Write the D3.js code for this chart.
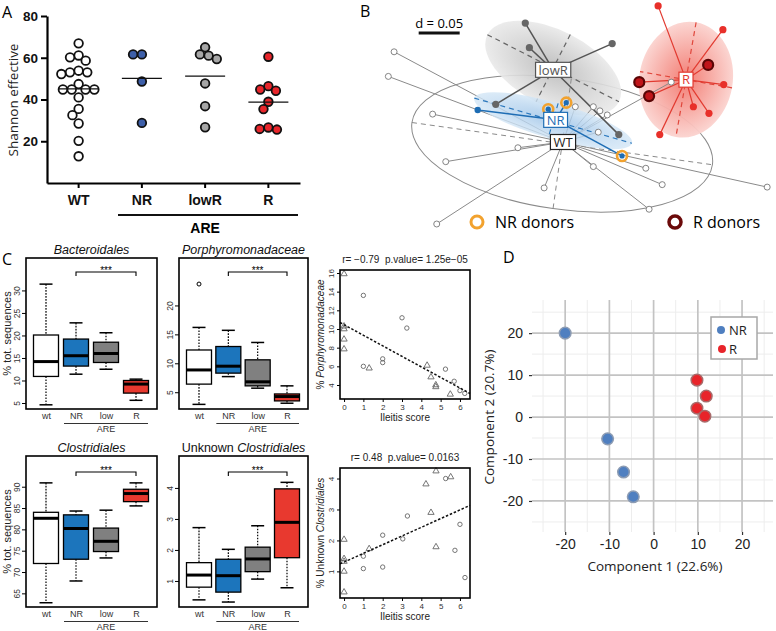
<!DOCTYPE html>
<html><head><meta charset="utf-8">
<script src="https://cdn.jsdelivr.net/npm/d3@7/dist/d3.min.js"></script>
<style>html,body{margin:0;padding:0;background:#fff}svg{display:block}</style>
</head><body>
<svg id="chart" width="776" height="631" viewBox="0 0 776 631"></svg>
<script>
// ================= DATA =================
// Panel A: Shannon effective
const aGroups = ["WT", "NR", "lowR", "R"];
const aWT   = [66.9, 61.1, 60.2, 58.6, 53.8, 53.0, 52.2, 53.0, 47.4, 44.8, 44.8, 44.8, 44.8, 41.0, 35.5, 32.5, 28.5, 20.2, 12.8];
const aNR   = [61.6, 61.6, 48.6, 28.8];
const aLowR = [65.0, 61.6, 61.0, 59.4, 47.7, 36.8, 26.7];
const aRv   = [60.5, 46.4, 44.8, 44.2, 38.9, 35.4, 26.6, 25.9, 25.6];
const aTicks = [20, 40, 60, 80];

// Panel B: ordination (units: distance, bar d = 0.05)
const bCenterWT = [0, 0], bCenterLowR = [-0.012, 0.088], bCenterR = [0.150, 0.076], bCenterNR = [-0.009, 0.027];
// ellipses: [cx, cy, semi-axis a, semi-axis b, angle deg]
const bEllWT   = [-0.001, -0.002, 0.185, 0.080, 8];
const bEllLowR = [-0.012, 0.090, 0.090, 0.046, 27];
const bEllR    = [0.150, 0.076, 0.071, 0.057, 100];
const bEllNR   = [-0.012, 0.026, 0.100, 0.022, 16];
const bWT = [[-0.206,0.110],[-0.213,0.080],[-0.159,0.034],[-0.143,-0.024],[-0.055,-0.007],[-0.023,-0.056],[-0.154,-0.100],
             [0.037,-0.030],[0.101,-0.032],[0.121,-0.052],[0.105,-0.082],[0.249,-0.055],[0.015,0.043],[0.037,0.043],
             [0.045,0.038],[0.054,0.033],[0.043,0.012],[0.132,0.073]];
const bLowR = [[-0.046,0.145],[-0.041,0.115],[-0.028,0.090],[0.060,0.120],[-0.082,0.046],[0.068,0.009]];
const bR = [[0.116,0.166],[0.195,0.137],[0.196,0.070],[0.159,0.043],[0.178,0.035],[0.118,0.009]];
const bRdonors = [[0.177,0.094],[0.093,0.073],[0.105,0.056]];
const bNR = [[-0.104,0.039]];
const bNRdonors = [[-0.018,0.040],[0.004,0.048],[0.072,-0.017]];

// Panel C: boxplot stats [low whisker, Q1, median, Q3, high whisker]
const boxGroups = ["wt", "NR", "low", "R"];
const bacteroidales = [[4.6,10.9,14.2,20.1,31.4],[11.4,13.2,15.5,19.2,22.8],[12.5,14.0,16.0,18.5,20.6],[5.6,7.2,9.2,10.0,10.3]];
const bacteroidalesTicks = [5,10,15,20,25,30];
const porphyro = [[2.9,6.4,8.85,12.3,16.2],[7.7,8.3,9.5,12.9,15.7],[5.7,6.1,6.8,10.6,13.6],[3.1,3.5,4.25,4.7,6.1]];
const porphyroOutliers = [[0, 23.7]];
const porphyroTicks = [5,10,15,20];
const clostridiales = [[62.8,72.0,82.6,84.0,90.9],[67.9,73.0,80.2,83.4,84.3],[73.3,74.8,77.2,80.3,84.5],[85.5,86.5,88.4,89.4,90.9]];
const clostridialesTicks = [65,70,75,80,85,90];
const unkClos = [[0.39,0.8,1.19,1.59,2.72],[0.32,0.64,1.17,1.70,2.02],[1.06,1.30,1.71,2.09,2.78],[0.78,1.75,2.89,3.97,4.18]];
const unkClosTicks = [1,2,3,4];
// Scatter: [ileitis score, %]
const porCircles = [[1.0,13.6],[1.0,6.0],[2.0,6.8],[2.0,6.4],[3.0,11.2],[3.25,10.1],[5.25,5.7],[5.7,4.4],[6.0,3.4],[6.25,3.1]];
const porTriangles = [[0,15.9],[0,10.3],[0,10.0],[0,8.9],[0,7.85],[1.3,5.8],[4.3,6.1],[4.5,4.85],[4.75,4.0],[4.75,3.8],[5.5,3.0]];
const porYTicks = [4,6,8,10,12,14,16];
const ucCircles = [[1.0,1.49],[1.0,1.09],[2.0,2.17],[2.0,1.14],[3.04,2.05],[3.28,2.79],[5.26,4.0],[6.0,2.52],[5.74,1.68],[6.26,0.8]];
const ucTriangles = [[0,2.03],[0,1.41],[0,1.32],[0,1.0],[0,0.33],[1.3,1.73],[4.24,3.82],[4.76,4.24],[5.52,4.05],[4.5,2.9],[4.76,1.79]];
const ucYTicks = [1,2,3,4];
const scoreTicks = [0,1,2,3,4,5,6];

// Panel D: PCA
const dNR = [[-20,20],[-10.4,-5.2],[-6.8,-13.1],[-4.6,-19.0]];
const dR  = [[9.8,8.8],[11.9,5.0],[9.8,2.1],[11.6,0.2]];
const dTicks = [-20,-10,0,10,20];
const dMinor = [-25,-15,-5,5,15,25];

// ================= DRAW =================
const SANS = "'Liberation Sans', Arial, sans-serif";
const HUM = "'Open Sans', 'Noto Sans', sans-serif";
const FMT = d3.format("~g");
const svg = d3.select("#chart");
const defs = svg.append("defs");

function label(t, x, y) {
  svg.append("text").attr("x", x).attr("y", y).attr("font-size", 16).attr("font-family", HUM).text(t);
}
label("A", 2, 18); label("B", 360, 17); label("C", 2, 265); label("D", 503, 263);

// ---------- Panel A ----------
function swarm(values, yS, d) {
  const placed = [], off = new Array(values.length);
  const order = values.map((v, i) => i).sort((a, b) => values[b] - values[a]);
  for (const i of order) {
    const py = yS(values[i]);
    const near = placed.filter(p => Math.abs(p.y - py) < d);
    const cands = [0];
    near.forEach(p => { const dx = Math.sqrt(d * d - (p.y - py) ** 2); cands.push(p.x - dx, p.x + dx); });
    cands.sort((a, b) => Math.abs(a) - Math.abs(b));
    const x = cands.find(c => near.every(p => Math.hypot(p.x - c, p.y - py) >= d - 1e-6));
    off[i] = x; placed.push({ x, y: py });
  }
  return off;
}
{
  const g = svg.append("g");
  const x = d3.scaleBand().domain(aGroups).range([47, 300]);
  const y = d3.scaleLinear().domain([0, 80]).range([183, 16]);
  const ya = g.append("g").attr("transform", "translate(47,0)")
    .call(d3.axisLeft(y).tickValues(aTicks).tickSize(6).tickSizeOuter(0).tickPadding(3));
  ya.select(".domain").attr("stroke-width", 2.2);
  ya.selectAll(".tick line").attr("stroke-width", 2);
  ya.selectAll("text").attr("font-size", 13.5).attr("font-weight", "bold").attr("font-family", SANS).attr("fill", "#111");
  const xa = g.append("g").attr("transform", "translate(0,183)")
    .call(d3.axisBottom(x).tickSize(5).tickSizeOuter(0).tickPadding(7));
  xa.select(".domain").attr("stroke-width", 2.2);
  xa.selectAll(".tick line").attr("stroke-width", 2);
  xa.selectAll("text").attr("font-size", 14).attr("font-weight", "bold").attr("font-family", SANS).attr("fill", "#111");
  g.append("line").attr("x1", 118).attr("x2", 298).attr("y1", 215).attr("y2", 215).attr("stroke", "#111").attr("stroke-width", 2);
  g.append("text").attr("x", x("lowR") + x.bandwidth() / 2).attr("y", 233).attr("text-anchor", "middle")
    .attr("font-size", 14).attr("font-weight", "bold").attr("font-family", SANS).text("ARE");
  g.append("text").attr("transform", "translate(18,100) rotate(-90)").attr("text-anchor", "middle")
    .attr("font-size", 13.5).attr("font-family", HUM).attr("fill", "#222").text("Shannon effective");
  const series = [aWT, aNR, aLowR, aRv];
  const fills = ["#ffffff", "#3d5fa9", "#a6a6a6", "#e8262b"];
  series.forEach((vals, gi) => {
    const cx = x(aGroups[gi]) + x.bandwidth() / 2;
    const offs = swarm(vals, y, 8.8);
    vals.forEach((v, i) => g.append("circle").attr("cx", cx + offs[i]).attr("cy", y(v)).attr("r", 4.3)
      .attr("fill", fills[gi]).attr("stroke", "#111").attr("stroke-width", 1.8));
    const m = d3.mean(vals);
    g.append("line").attr("x1", cx - 20).attr("x2", cx + 20).attr("y1", y(m)).attr("y2", y(m)).attr("stroke", "#111").attr("stroke-width", 1.3);
  });
}

// ---------- Panel B ----------
function radial(id, c0, c1) {
  const gr = defs.append("radialGradient").attr("id", id);
  gr.append("stop").attr("offset", "0%").attr("stop-color", c0);
  gr.append("stop").attr("offset", "100%").attr("stop-color", c1);
}
radial("gGray", "#b9b9b9", "#e9e9e9");
radial("gRed", "#f2776d", "#fbd3cf");
radial("gBlue", "#98c0e6", "#d3e6f6");
{
  const g = svg.append("g");
  const x = d3.scaleLinear().domain([-0.25, 0.25]).range([358, 768]);
  const y = d3.scaleLinear().domain([-0.1, 0.1]).range([224, 60]);
  const k = x(1) - x(0);
  function ellipse(e, fill, stroke, op) {
    g.append("ellipse").attr("transform", `translate(${x(e[0])},${y(e[1])}) rotate(${e[4]})`)
      .attr("rx", e[2] * k).attr("ry", e[3] * k).attr("fill", fill).attr("fill-opacity", op)
      .attr("stroke", stroke).attr("stroke-width", 1);
  }
  function axes(e, col, w) {
    const cx = x(e[0]), cy = y(e[1]), t = e[4] * Math.PI / 180;
    const ux = Math.cos(t), uy = Math.sin(t), a = e[2] * k, b = e[3] * k;
    [[ux * a, uy * a], [-uy * b, ux * b]].forEach(([dx, dy]) =>
      g.append("line").attr("x1", cx - dx).attr("y1", cy - dy).attr("x2", cx + dx).attr("y2", cy + dy)
        .attr("stroke", col).attr("stroke-width", w).attr("stroke-dasharray", "5,4"));
  }
  function spokes(c, pts, col, w) {
    pts.forEach(p => g.append("line").attr("x1", x(c[0])).attr("y1", y(c[1])).attr("x2", x(p[0])).attr("y2", y(p[1]))
      .attr("stroke", col).attr("stroke-width", w));
  }
  ellipse(bEllWT, "none", "#8a8a8a", 1);
  ellipse(bEllLowR, "url(#gGray)", "none", 0.9);
  ellipse(bEllR, "url(#gRed)", "none", 0.95);
  axes(bEllWT, "#8a8a8a", 1);
  axes(bEllLowR, "#666", 1.2);
  axes(bEllR, "#e0473c", 1.2);
  spokes(bCenterWT, bWT, "#8a8a8a", 1);
  ellipse(bEllNR, "url(#gBlue)", "none", 0.8);
  axes(bEllNR, "#2b78bd", 1.2);
  spokes(bCenterLowR, bLowR, "#555", 1.5);
  spokes(bCenterR, bR.concat(bRdonors), "#e23a30", 1.2);
  spokes(bCenterNR, bNR.concat(bNRdonors), "#1e6db4", 1.5);
  bWT.forEach(p => g.append("circle").attr("cx", x(p[0])).attr("cy", y(p[1])).attr("r", 3).attr("fill", "#fff").attr("stroke", "#777").attr("stroke-width", 0.9));
  bLowR.forEach(p => g.append("circle").attr("cx", x(p[0])).attr("cy", y(p[1])).attr("r", 3.6).attr("fill", "#666"));
  bR.forEach(p => g.append("circle").attr("cx", x(p[0])).attr("cy", y(p[1])).attr("r", 3.6).attr("fill", "#e8302a"));
  bRdonors.forEach(p => g.append("circle").attr("cx", x(p[0])).attr("cy", y(p[1])).attr("r", 5).attr("fill", "#c0151a").attr("stroke", "#5a0505").attr("stroke-width", 2.2));
  bNR.forEach(p => g.append("circle").attr("cx", x(p[0])).attr("cy", y(p[1])).attr("r", 3.2).attr("fill", "#1e6db4"));
  bNRdonors.forEach(p => {
    g.append("circle").attr("cx", x(p[0])).attr("cy", y(p[1])).attr("r", 5).attr("fill", "none").attr("stroke", "#f2a22e").attr("stroke-width", 2.6);
    g.append("circle").attr("cx", x(p[0])).attr("cy", y(p[1])).attr("r", 2.6).attr("fill", "#1e6db4");
  });
  function tag(c, t, col) {
    const tx = g.append("text").attr("x", x(c[0])).attr("y", y(c[1])).attr("dy", "0.36em").attr("text-anchor", "middle")
      .attr("font-size", 13).attr("font-family", HUM).attr("fill", col).text(t);
    const w = tx.node().getComputedTextLength() + 6;
    g.insert("rect", () => tx.node()).attr("x", x(c[0]) - w / 2).attr("y", y(c[1]) - 7.5).attr("width", w).attr("height", 15)
      .attr("fill", "#fff").attr("stroke", col).attr("stroke-width", 1.2);
  }
  tag(bCenterLowR, "lowR", "#555");
  tag(bCenterR, "R", "#e23a30");
  tag(bCenterNR, "NR", "#1e6db4");
  tag(bCenterWT, "WT", "#222");
  // scale bar d = 0.05
  g.append("line").attr("x1", x(-0.176)).attr("x2", x(-0.176) + 0.05 * k).attr("y1", 33).attr("y2", 33).attr("stroke", "#111").attr("stroke-width", 3);
  g.append("text").attr("x", x(-0.176) + 0.025 * k).attr("y", 28).attr("text-anchor", "middle").attr("font-size", 13).attr("font-family", HUM).text("d = 0.05");
  // legend
  g.append("circle").attr("cx", 477).attr("cy", 222).attr("r", 6).attr("fill", "none").attr("stroke", "#f2a22e").attr("stroke-width", 3);
  g.append("text").attr("x", 495).attr("y", 222).attr("dy", "0.36em").attr("font-size", 16).attr("font-family", HUM).text("NR donors");
  g.append("circle").attr("cx", 675).attr("cy", 222).attr("r", 6).attr("fill", "none").attr("stroke", "#6b0a0a").attr("stroke-width", 3.5);
  g.append("text").attr("x", 693).attr("y", 222).attr("dy", "0.36em").attr("font-size", 16).attr("font-family", HUM).text("R donors");
}

// ---------- Panel C ----------
const boxFill = ["#ffffff", "#1c75bc", "#808080", "#e8392f"];
function styleRotY(ax) {
  ax.select(".domain").remove();
  ax.selectAll("text").attr("transform", "rotate(-90)").attr("x", 0).attr("y", -6).attr("dy", 0)
    .attr("text-anchor", "middle").attr("font-size", 8.5).attr("font-family", SANS).attr("fill", "#333");
}
function title(g, cx, y, parts, size) {
  const t = g.append("text").attr("x", cx).attr("y", y).attr("text-anchor", "middle").attr("font-size", size).attr("font-family", SANS).attr("fill", "#111");
  parts.forEach(p => t.append("tspan").attr("font-style", p[1] ? "italic" : "normal").text(p[0]));
  return t;
}
function boxPlot(c) {
  const g = svg.append("g");
  const y = d3.scaleLinear().domain(c.yDom).range([c.y1, c.y0]);
  const x = d3.scalePoint().domain(boxGroups).range([c.x0 + 20, c.x1 - 21]);
  const hw = 12.5, cw = 6.5;
  c.stats.forEach((s, i) => {
    const cx = x(boxGroups[i]);
    [[s[4], s[3]], [s[1], s[0]]].forEach(([a, b]) => g.append("line").attr("x1", cx).attr("x2", cx).attr("y1", y(a)).attr("y2", y(b))
      .attr("stroke", "#000").attr("stroke-width", 1.2).attr("stroke-dasharray", "1.6,1.4"));
    [s[0], s[4]].forEach(v => g.append("line").attr("x1", cx - cw).attr("x2", cx + cw).attr("y1", y(v)).attr("y2", y(v)).attr("stroke", "#000").attr("stroke-width", 1.5));
    g.append("rect").attr("x", cx - hw).attr("y", y(s[3])).attr("width", 2 * hw).attr("height", y(s[1]) - y(s[3]))
      .attr("fill", boxFill[i]).attr("stroke", "#000").attr("stroke-width", 1.3);
    g.append("line").attr("x1", cx - hw).attr("x2", cx + hw).attr("y1", y(s[2])).attr("y2", y(s[2])).attr("stroke", "#000").attr("stroke-width", 3);
  });
  (c.outliers || []).forEach(o => g.append("circle").attr("cx", x(boxGroups[o[0]])).attr("cy", y(o[1])).attr("r", 2).attr("fill", "none").attr("stroke", "#000").attr("stroke-width", 1));
  g.append("rect").attr("x", c.x0).attr("y", c.y0).attr("width", c.x1 - c.x0).attr("height", c.y1 - c.y0).attr("fill", "none").attr("stroke", "#000").attr("stroke-width", 1.6);
  const ya = g.append("g").attr("transform", `translate(${c.x0},0)`).call(d3.axisLeft(y).tickValues(c.ticks).tickSize(4).tickPadding(3).tickFormat(FMT));
  styleRotY(ya);
  const xa = g.append("g").attr("transform", `translate(0,${c.y1})`).call(d3.axisBottom(x).tickSize(0).tickPadding(4));
  xa.select(".domain").remove();
  xa.selectAll("text").attr("font-size", 9).attr("font-family", SANS).attr("fill", "#333");
  g.append("line").attr("x1", x("NR") - 12).attr("x2", x("R") + 12).attr("y1", c.y1 + 14.5).attr("y2", c.y1 + 14.5).attr("stroke", "#333").attr("stroke-width", 1);
  g.append("text").attr("x", (x("NR") + x("R")) / 2).attr("y", c.y1 + 22.5).attr("text-anchor", "middle").attr("font-size", 9).attr("font-family", SANS).attr("fill", "#333").text("ARE");
  const by = c.bracketY;
  g.append("path").attr("d", `M${x("NR")},${by + 4}V${by}H${x("R")}V${by + 4}`).attr("fill", "none").attr("stroke", "#000").attr("stroke-width", 1.1);
  g.append("text").attr("x", (x("NR") + x("R")) / 2).attr("y", by + 1.5).attr("text-anchor", "middle").attr("font-size", 10).attr("font-family", SANS).text("***");
  title(g, (c.x0 + c.x1) / 2, c.y0 - 4, c.title, 12.5);
  if (c.ylab) g.append("text").attr("transform", `translate(11,${(c.y0 + c.y1) / 2}) rotate(-90)`).attr("text-anchor", "middle")
    .attr("font-size", 11).attr("font-family", SANS).attr("fill", "#222").text(c.ylab);
}
boxPlot({ x0: 26, x1: 157, y0: 258, y1: 409, yDom: [3.67, 37.2], stats: bacteroidales, ticks: bacteroidalesTicks, bracketY: 272, title: [["Bacteroidales", 1]], ylab: "% tot. sequences" });
boxPlot({ x0: 179, x1: 308, y0: 258, y1: 409, yDom: [2.1, 28.2], stats: porphyro, ticks: porphyroTicks, outliers: porphyroOutliers, bracketY: 272, title: [["Porphyromonadaceae", 1]] });
boxPlot({ x0: 26, x1: 157, y0: 456, y1: 607, yDom: [61.8, 97.2], stats: clostridiales, ticks: clostridialesTicks, bracketY: 472, title: [["Clostridiales", 1]], ylab: "% tot. sequences" });
boxPlot({ x0: 179, x1: 308, y0: 456, y1: 607, yDom: [0.16, 5.03], stats: unkClos, ticks: unkClosTicks, bracketY: 472, title: [["Unknown ", 0], ["Clostridiales", 1]] });

function scatter(c) {
  const g = svg.append("g");
  const x = d3.scaleLinear().domain([-0.21, 6.52]).range([340, 470]);
  const y = d3.scaleLinear().domain(c.yDom).range([c.y1, c.y0]);
  c.circles.forEach(p => g.append("circle").attr("cx", x(p[0])).attr("cy", y(p[1])).attr("r", 2.2).attr("fill", "none").attr("stroke", "#666").attr("stroke-width", 0.9));
  const tri = d3.symbol(d3.symbolTriangle, 17);
  c.triangles.forEach(p => g.append("path").attr("d", tri()).attr("transform", `translate(${x(p[0])},${y(p[1])})`).attr("fill", "none").attr("stroke", "#666").attr("stroke-width", 0.9));
  const all = c.circles.concat(c.triangles);
  const mx = d3.mean(all, d => d[0]), my = d3.mean(all, d => d[1]);
  const slope = d3.sum(all, d => (d[0] - mx) * (d[1] - my)) / d3.sum(all, d => (d[0] - mx) ** 2);
  const icpt = my - slope * mx;
  const xd = x.domain();
  g.append("line").attr("x1", x(xd[0])).attr("x2", x(xd[1])).attr("y1", y(icpt + slope * xd[0])).attr("y2", y(icpt + slope * xd[1]))
    .attr("stroke", "#111").attr("stroke-width", 1.5).attr("stroke-dasharray", "2.5,1.8");
  g.append("rect").attr("x", 340).attr("y", c.y0).attr("width", 130).attr("height", c.y1 - c.y0).attr("fill", "none").attr("stroke", "#000").attr("stroke-width", 1.6);
  const ya = g.append("g").attr("transform", "translate(340,0)").call(d3.axisLeft(y).tickValues(c.yTicks).tickSize(3).tickPadding(2).tickFormat(FMT));
  styleRotY(ya);
  ya.selectAll("text").attr("font-size", 8);
  const xa = g.append("g").attr("transform", `translate(0,${c.y1})`).call(d3.axisBottom(x).tickValues(scoreTicks).tickSize(3).tickPadding(2).tickFormat(FMT));
  xa.select(".domain").remove();
  xa.selectAll("text").attr("font-size", 8).attr("font-family", SANS).attr("fill", "#333");
  g.append("text").attr("x", 405).attr("y", c.y1 + 22).attr("text-anchor", "middle").attr("font-size", 10).attr("font-family", SANS).attr("fill", "#222").text("Ileitis score");
  g.append("text").attr("x", 405).attr("y", c.y0 - 7).attr("text-anchor", "middle").attr("font-size", 10).attr("font-family", SANS).attr("fill", "#222").attr("xml:space", "preserve").text(c.head);
  const yl = g.append("text").attr("transform", `translate(324,${(c.y0 + c.y1) / 2}) rotate(-90)`).attr("text-anchor", "middle")
    .attr("font-size", 10).attr("font-family", SANS).attr("fill", "#222");
  c.ylab.forEach(p => yl.append("tspan").attr("font-style", p[1] ? "italic" : "normal").text(p[0]));
}
scatter({ y0: 270, y1: 399, yDom: [2.5, 16.32], yTicks: porYTicks, circles: porCircles, triangles: porTriangles,
  head: "r= \u22120.79  p.value= 1.25e\u221205", ylab: [["% ", 0], ["Porphyromonadaceae", 1]] });
scatter({ y0: 468, y1: 598, yDom: [0.14, 4.34], yTicks: ucYTicks, circles: ucCircles, triangles: ucTriangles,
  head: "r= 0.48  p.value= 0.0163", ylab: [["% Unknown ", 0], ["Clostridiales", 1]] });

// ---------- Panel D ----------
{
  const g = svg.append("g");
  const x = d3.scaleLinear().domain([-27.5, 27]).range([532, 773]);
  const y = d3.scaleLinear().domain([-27.4, 27.9]).range([532, 300]);
  dMinor.forEach(v => {
    g.append("line").attr("x1", x(v)).attr("x2", x(v)).attr("y1", 300).attr("y2", 532).attr("stroke", "#ededed").attr("stroke-width", 1);
    g.append("line").attr("x1", 532).attr("x2", 773).attr("y1", y(v)).attr("y2", y(v)).attr("stroke", "#ededed").attr("stroke-width", 1);
  });
  dTicks.forEach(v => {
    g.append("line").attr("x1", x(v)).attr("x2", x(v)).attr("y1", 300).attr("y2", 532).attr("stroke", "#c3c3c3").attr("stroke-width", 1.7);
    g.append("line").attr("x1", 532).attr("x2", 773).attr("y1", y(v)).attr("y2", y(v)).attr("stroke", "#c3c3c3").attr("stroke-width", 1.7);
  });
  const ya = g.append("g").attr("transform", "translate(532,0)").call(d3.axisLeft(y).tickValues(dTicks).tickSize(3).tickPadding(6).tickFormat(d => String(d)));
  ya.select(".domain").remove();
  ya.selectAll(".tick line").attr("stroke", "#333").attr("stroke-width", 1.2);
  ya.selectAll("text").attr("font-size", 14).attr("font-family", SANS).attr("fill", "#222");
  const xa = g.append("g").attr("transform", "translate(0,532)").call(d3.axisBottom(x).tickValues(dTicks).tickSize(3).tickPadding(4).tickFormat(d => String(d)));
  xa.select(".domain").remove();
  xa.selectAll(".tick line").attr("stroke", "#333").attr("stroke-width", 1.2);
  xa.selectAll("text").attr("font-size", 14).attr("font-family", SANS).attr("fill", "#222");
  g.append("text").attr("x", 655).attr("y", 571).attr("text-anchor", "middle").attr("font-size", 13.5).attr("font-family", HUM).attr("fill", "#222").text("Component 1 (22.6%)");
  g.append("text").attr("transform", "translate(494,417) rotate(-90)").attr("text-anchor", "middle").attr("font-size", 13.5).attr("font-family", HUM).attr("fill", "#222").text("Component 2 (20.7%)");
  dNR.forEach(p => g.append("circle").attr("cx", x(p[0])).attr("cy", y(p[1])).attr("r", 5.8).attr("fill", "#4f7fc0").attr("stroke", "#8d9cb3").attr("stroke-width", 1.5));
  dR.forEach(p => g.append("circle").attr("cx", x(p[0])).attr("cy", y(p[1])).attr("r", 5.8).attr("fill", "#e8242a").attr("stroke", "#a86a6a").attr("stroke-width", 1.5));
  g.append("rect").attr("x", 711).attr("y", 317).attr("width", 46).attr("height", 42).attr("fill", "#fff").attr("stroke", "#a8a8a8").attr("stroke-width", 1.5);
  g.append("circle").attr("cx", 721).attr("cy", 330).attr("r", 4).attr("fill", "#4f7fc0");
  g.append("circle").attr("cx", 722).attr("cy", 349).attr("r", 4).attr("fill", "#e8242a");
  g.append("text").attr("x", 729).attr("y", 330).attr("dy", "0.36em").attr("font-size", 13).attr("font-family", HUM).attr("fill", "#222").text("NR");
  g.append("text").attr("x", 729).attr("y", 349).attr("dy", "0.36em").attr("font-size", 13).attr("font-family", HUM).attr("fill", "#222").text("R");
}
</script>
</body></html>
